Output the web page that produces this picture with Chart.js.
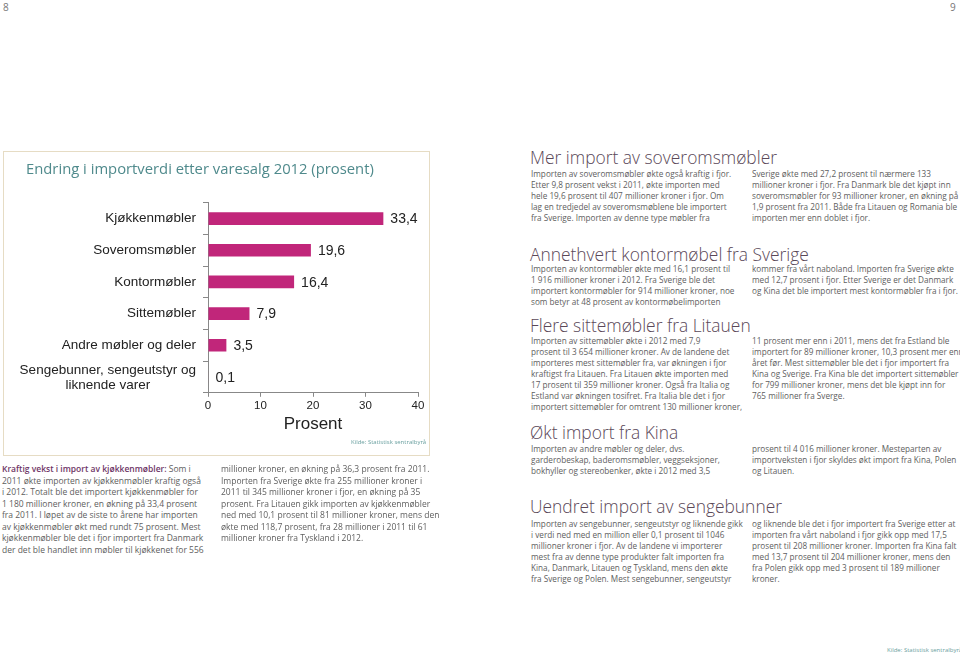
<!DOCTYPE html>
<html>
<head>
<meta charset="utf-8">
<script src="https://cdn.jsdelivr.net/npm/chart.js@4"></script>
<style>
  html, body { margin: 0; padding: 0; background: #fff; }
  body { width: 960px; height: 664px; position: relative; overflow: hidden; font-family: "Open Sans", sans-serif; }
  .box { position: absolute; left: 3px; top: 151px; width: 425px; height: 303px; border: 1.5px solid #e6dcc4; }
  #chartWrap { position: absolute; left: 4px; top: 152px; width: 425px; height: 303px; }
  .txt { position: absolute; font-size: 8.2px; line-height: 11px; color: #5e5e5e; white-space: nowrap; }
  .txt b { color: #6e3566; font-weight: 600; }
  .head { position: absolute; font-size: 17.4px; color: #5a4858; white-space: nowrap; font-weight: 300; line-height: 20px; }
  .src { position: absolute; font-size: 6px; color: #6aa0a0; white-space: nowrap; }
  .pg { position: absolute; top: 0; font-size: 10px; color: #777; }
</style>
</head>
<body>
<div class="pg" style="left:3px">8</div>
<div class="pg" style="left:950px">9</div>

<div class="box"></div>
<div id="chartWrap"><canvas id="chart"></canvas></div>
<div class="src" style="left:351px; top:438px">Kilde: Statistisk sentralbyrå</div>

<div id="texts"></div>
<div class="src" style="left:887px; top:646px">Kilde: Statistisk sentralbyrå</div>

<script>
// chart data
const categories = ['Kjøkkenmøbler', 'Soveromsmøbler', 'Kontormøbler', 'Sittemøbler', 'Andre møbler og deler', ['Sengebunner, sengeutstyr og', 'liknende varer']];
const values = [33.4, 19.6, 16.4, 7.9, 3.5, 0.1];
const xTicks = [0, 10, 20, 30, 40];

// value labels at bar ends, and category labels (centered lines for the wrapped one)
const labelPlugin = {
  id: 'labels',
  afterDatasetsDraw(chart) {
    const ctx = chart.ctx;
    const meta = chart.getDatasetMeta(0);
    ctx.save();
    ctx.font = '14px "Liberation Sans", Arial, sans-serif';
    ctx.fillStyle = '#222';
    ctx.textBaseline = 'middle';
    ctx.textAlign = 'left';
    meta.data.forEach((bar, i) => {
      ctx.fillText(String(values[i]).replace('.', ','), bar.x + 7, bar.y + 1);
    });
    // category labels
    const yScale = chart.scales.y;
    const right = yScale.right - 12;
    ctx.font = '13.5px "Liberation Sans", Arial, sans-serif';
    categories.forEach((c, i) => {
      const y = yScale.getPixelForValue(i);
      if (Array.isArray(c)) {
        const w = Math.max(...c.map(s => ctx.measureText(s).width));
        ctx.textAlign = 'center';
        c.forEach((s, k) => ctx.fillText(s, right - w / 2, y - 7 + k * 15));
      } else {
        ctx.textAlign = 'right';
        ctx.fillText(c, right, y);
      }
    });
    ctx.restore();
  }
};

new Chart(document.getElementById('chart'), {
  type: 'bar',
  data: {
    labels: categories,
    datasets: [{
      data: values,
      backgroundColor: '#c1267a',
      barPercentage: 0.8,
      categoryPercentage: 0.5
    }]
  },
  options: {
    indexAxis: 'y',
    responsive: true,
    maintainAspectRatio: false,
    animation: false,
    layout: { padding: { left: 22, right: 11, top: 0, bottom: 20 } },
    plugins: {
      legend: { display: false },
      tooltip: { enabled: false },
      title: {
        display: true,
        text: 'Endring i importverdi etter varesalg 2012 (prosent)',
        align: 'start',
        color: '#4f8a8c',
        font: { family: '"Open Sans", sans-serif', size: 14.8, weight: 'normal' },
        padding: { top: 9, bottom: 24 }
      }
    },
    scales: {
      x: {
        min: 0,
        max: 40,
        afterBuildTicks: axis => { axis.ticks = xTicks.map(v => ({ value: v })); },
        grid: { drawOnChartArea: false, color: '#888', tickLength: 4 },
        border: { color: '#888' },
        ticks: { color: '#222', padding: 2, font: { family: '"Liberation Sans", Arial', size: 11.5 } },
        title: {
          display: true,
          text: 'Prosent',
          color: '#222',
          font: { family: '"Liberation Sans", Arial', size: 17 },
          padding: { top: 0, bottom: 0 }
        }
      },
      y: {
        afterFit: axis => { axis.width = 182; },
        grid: { drawOnChartArea: false, color: '#888', tickLength: 5, offset: true },
        border: { color: '#888' },
        ticks: { display: false }
      }
    }
  },
  plugins: [labelPlugin]
});

// page text
const blocks = [
  { x: 2, y: 463, lh: 11.5, fs: 8.5, lines: ['<b>Kraftig vekst i import av kjøkkenmøbler:</b> Som i', '2011 økte importen av kjøkkenmøbler kraftig også', 'i 2012. Totalt ble det importert kjøkkenmøbler for', '1 180 millioner kroner, en økning på 33,4 prosent', 'fra 2011. I løpet av de siste to årene har importen', 'av kjøkkenmøbler økt med rundt 75 prosent. Mest', 'kjøkkenmøbler ble det i fjor importert fra Danmark', 'der det ble handlet inn møbler til kjøkkenet for 556'] },
  { x: 221, y: 463, lh: 11.5, fs: 8.5, lines: ['millioner kroner, en økning på 36,3 prosent fra 2011.', 'Importen fra Sverige økte fra 255 millioner kroner i', '2011 til 345 millioner kroner i fjor, en økning på 35', 'prosent. Fra Litauen gikk importen av kjøkkenmøbler', 'ned med 10,1 prosent til 81 millioner kroner, mens den', 'økte med 118,7 prosent, fra 28 millioner i 2011 til 61', 'millioner kroner fra Tyskland i 2012.'] },
  { x: 531, y: 167.5, lines: ['Importen av soveromsmøbler økte også kraftig i fjor.', 'Etter 9,8 prosent vekst i 2011, økte importen med', 'hele 19,6 prosent til 407 millioner kroner i fjor. Om', 'lag en tredjedel av soveromsmøblene ble importert', 'fra Sverige. Importen av denne type møbler fra'] },
  { x: 752, y: 167.5, lines: ['Sverige økte med 27,2 prosent til nærmere 133', 'millioner kroner i fjor. Fra Danmark ble det kjøpt inn', 'soveromsmøbler for 93 millioner kroner, en økning på', '1,9 prosent fra 2011. Både fra Litauen og Romania ble', 'importen mer enn doblet i fjor.'] },
  { x: 531, y: 262.5, lines: ['Importen av kontormøbler økte med 16,1 prosent til', '1 916 millioner kroner i 2012. Fra Sverige ble det', 'importert kontormøbler for 914 millioner kroner, noe', 'som betyr at 48 prosent av kontormøbelimporten'] },
  { x: 752, y: 262.5, lines: ['kommer fra vårt naboland. Importen fra Sverige økte', 'med 12,7 prosent i fjor. Etter Sverige er det Danmark', 'og Kina det ble importert mest kontormøbler fra i fjor.'] },
  { x: 531, y: 334.5, lines: ['Importen av sittemøbler økte i 2012 med 7,9', 'prosent til 3 654 millioner kroner. Av de landene det', 'importeres mest sittemøbler fra, var økningen i fjor', 'kraftigst fra Litauen. Fra Litauen økte importen med', '17 prosent til 359 millioner kroner. Også fra Italia og', 'Estland var økningen tosifret. Fra Italia ble det i fjor', 'importert sittemøbler for omtrent 130 millioner kroner,'] },
  { x: 752, y: 334.5, lines: ['11 prosent mer enn i 2011, mens det fra Estland ble', 'importert for 89 millioner kroner, 10,3 prosent mer enn', 'året før. Mest sittemøbler ble det i fjor importert fra', 'Kina og Sverige. Fra Kina ble det importert sittemøbler', 'for 799 millioner kroner, mens det ble kjøpt inn for', '765 millioner fra Sverge.'] },
  { x: 531, y: 442.5, lines: ['Importen av andre møbler og deler, dvs.', 'garderobeskap, baderomsmøbler, veggseksjoner,', 'bokhyller og stereobenker, økte i 2012 med 3,5'] },
  { x: 752, y: 442.5, lines: ['prosent til 4 016 millioner kroner. Mesteparten av', 'importveksten i fjor skyldes økt import fra Kina, Polen', 'og Litauen.'] },
  { x: 531, y: 517.5, lines: ['Importen av sengebunner, sengeutstyr og liknende gikk', 'i verdi ned med en million eller 0,1 prosent til 1046', 'millioner kroner i fjor. Av de landene vi importerer', 'mest fra av denne type produkter falt importen fra', 'Kina, Danmark, Litauen og Tyskland, mens den økte', 'fra Sverige og Polen. Mest sengebunner, sengeutstyr'] },
  { x: 752, y: 517.5, lines: ['og liknende ble det i fjor importert fra Sverige etter at', 'importen fra vårt naboland i fjor gikk opp med 17,5', 'prosent til 208 millioner kroner. Importen fra Kina falt', 'med 13,7 prosent til 204 millioner kroner, mens den', 'fra Polen gikk opp med 3 prosent til 189 millioner', 'kroner.'] }
];
const heads = [
  { x: 530, y: 147, text: 'Mer import av soveromsmøbler' },
  { x: 530, y: 244, text: 'Annethvert kontormøbel fra Sverige' },
  { x: 530, y: 315, text: 'Flere sittemøbler fra Litauen' },
  { x: 530, y: 422, text: 'Økt import fra Kina' },
  { x: 530, y: 496, text: 'Uendret import av sengebunner' }
];
const holder = document.getElementById('texts');
blocks.forEach(b => {
  const d = document.createElement('div');
  d.className = 'txt';
  d.style.left = b.x + 'px';
  d.style.top = b.y + 'px';
  if (b.lh) d.style.lineHeight = b.lh + 'px';
  if (b.fs) d.style.fontSize = b.fs + 'px';
  d.innerHTML = b.lines.join('<br>');
  holder.appendChild(d);
});
heads.forEach(h => {
  const d = document.createElement('div');
  d.className = 'head';
  d.style.left = h.x + 'px';
  d.style.top = h.y + 'px';
  d.textContent = h.text;
  holder.appendChild(d);
});
</script>
</body>
</html>
